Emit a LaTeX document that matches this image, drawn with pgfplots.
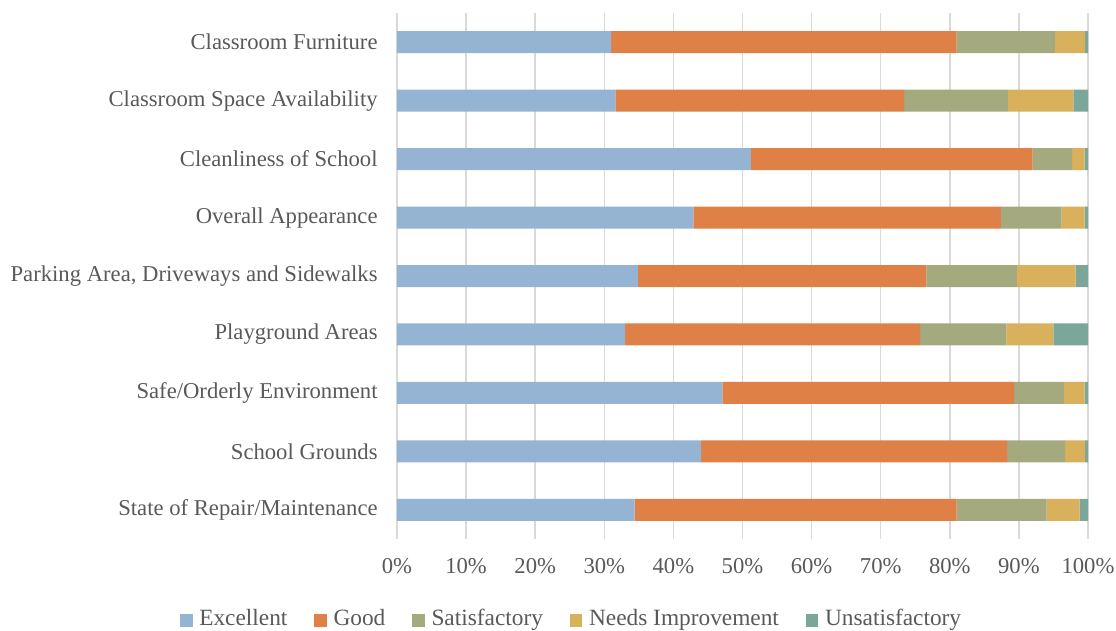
\documentclass[border=0pt]{standalone}
\usepackage{fontspec}
\setmainfont{Liberation Serif}
\usepackage{pgfplots}
\usepackage{pgfplotstable}
\pgfplotsset{compat=1.18}
\definecolor{cE}{HTML}{95B3D3}
\definecolor{cG}{HTML}{DF8047}
\definecolor{cS}{HTML}{A4A97E}
\definecolor{cN}{HTML}{D9B05B}
\definecolor{cU}{HTML}{7BA79A}
\definecolor{txt}{HTML}{595959}
\definecolor{grd}{HTML}{D9D9D9}
\pgfplotstableread{
idx E G S N U
0 31.0 50.0 14.2 4.4 0.4
1 31.6 41.8 15.0 9.5 2.1
2 51.2 40.8 5.7 1.8 0.5
3 42.9 44.5 8.8 3.3 0.5
4 34.9 41.7 13.1 8.5 1.8
5 33.0 42.7 12.5 6.8 5.0
6 47.1 42.2 7.2 3.0 0.5
7 44.0 44.3 8.4 2.9 0.4
8 34.4 46.6 13.0 4.8 1.2
}\datatable
\begin{document}
\begin{tikzpicture}
\useasboundingbox (-297.75pt,-69pt) rectangle (539.25pt,404.25pt);
\begin{axis}[
  scale only axis, width=518.25pt, height=394.5pt,
  at={(0pt,0pt)}, anchor=south west,
  xbar stacked, bar width=16.5pt,
  xmin=0, xmax=100, ymin=-0.5, ymax=8.5, y dir=reverse,
  ytick={0,...,8},
  yticklabels={Classroom Furniture,Classroom Space Availability,Cleanliness of School,Overall Appearance,{Parking Area, Driveways and Sidewalks},Playground Areas,Safe/Orderly Environment,School Grounds,State of Repair/Maintenance},
  xtick={0,10,...,100},
  xticklabels={0\%,10\%,20\%,30\%,40\%,50\%,60\%,70\%,80\%,90\%,100\%},
  axis line style={draw=none},
  major tick length=0pt,
  xmajorgrids, grid style={grd, line width=1.1pt},
  tick label style={font=\fontsize{17}{19}\selectfont, text=txt},
  yticklabel style={xshift=-11pt},
  xticklabel style={yshift=-11pt},
  legend columns=5,
  legend style={draw=none, fill=none, font=\fontsize{17.5}{19}\selectfont, text=txt,
    at={(axis description cs:0.5,0)}, anchor=north, xshift=-128pt, yshift=-56pt,
    /tikz/every even column/.append style={column sep=18pt},
    nodes={text height=1.4ex, text depth=0.3ex},
    inner sep=0pt},
  legend image code/.code={\fill[#1] (0pt,-3.2pt) rectangle (9.6pt,6.4pt); \path (12.6pt,0pt);},
]
\addplot[fill=cE, draw=none] table[x=E, y=idx] {\datatable};
\addplot[fill=cG, draw=none] table[x=G, y=idx] {\datatable};
\addplot[fill=cS, draw=none] table[x=S, y=idx] {\datatable};
\addplot[fill=cN, draw=none] table[x=N, y=idx] {\datatable};
\addplot[fill=cU, draw=none] table[x=U, y=idx] {\datatable};
\legend{Excellent,Good,Satisfactory,Needs Improvement,Unsatisfactory}
\end{axis}
\end{tikzpicture}
\end{document}
